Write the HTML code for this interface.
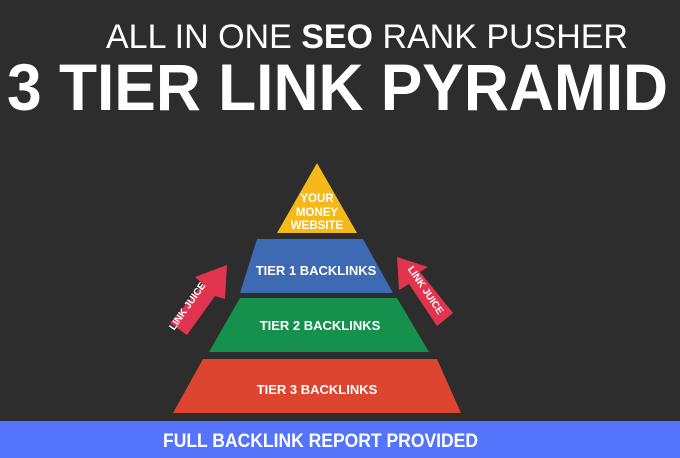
<!DOCTYPE html>
<html><head><style>
html,body{margin:0;padding:0;background:#2d2d2d;}
svg{display:block;}
text{font-family:"Liberation Sans",sans-serif;}
</style></head><body>
<svg width="680" height="458" viewBox="0 0 680 458" xmlns="http://www.w3.org/2000/svg">
<rect width="680" height="458" fill="#2d2d2d"/>
<text x="106" y="48" font-size="34" fill="#fff" textLength="522" lengthAdjust="spacingAndGlyphs"><tspan font-weight="normal">ALL IN ONE </tspan><tspan font-weight="bold">SEO</tspan><tspan> RANK PUSHER</tspan></text>
<text x="7" y="110" font-size="66" font-weight="bold" fill="#fff" textLength="661" lengthAdjust="spacingAndGlyphs">3 TIER LINK PYRAMID</text>
<polygon points="317,163 357,233 277,233" fill="#f6b91a"/>
<polygon points="257,239 363,239 393,293 240,293" fill="#3e69b3"/>
<polygon points="240,298 397,298 429,352 209,352" fill="#16904d"/>
<polygon points="203,359 437,359 461,413 173,413" fill="#dd4530"/>
<g fill="#fff" font-weight="bold" text-anchor="middle">
<text x="317" y="202" font-size="11.5">YOUR</text>
<text x="317" y="216" font-size="11.5">MONEY</text>
<text x="317" y="229" font-size="11.5">WEBSITE</text>
<text x="316" y="275" font-size="13">TIER 1 BACKLINKS</text>
<text x="320" y="330" font-size="13">TIER 2 BACKLINKS</text>
<text x="317" y="394" font-size="13">TIER 3 BACKLINKS</text>
</g>
<polygon points="170,323 187,335 215,296 225,299 227,265 195,277 203,284" fill="#e0344f"/>
<text transform="translate(190,308) rotate(-55)" font-size="10" font-weight="bold" fill="#fff" text-anchor="middle">LINK JUICE</text>
<polygon points="453,313 437,326 409,284 399,290 397,257 428,267 420,272" fill="#e0344f"/>
<text transform="translate(423,292) rotate(56)" font-size="10" font-weight="bold" fill="#fff" text-anchor="middle">LINK JUICE</text>
<rect x="0" y="421" width="680" height="37" fill="#5474fb"/>
<text x="163" y="447" font-size="19" font-weight="bold" fill="#fff" textLength="315" lengthAdjust="spacingAndGlyphs">FULL BACKLINK REPORT PROVIDED</text>
</svg>
</body></html>
